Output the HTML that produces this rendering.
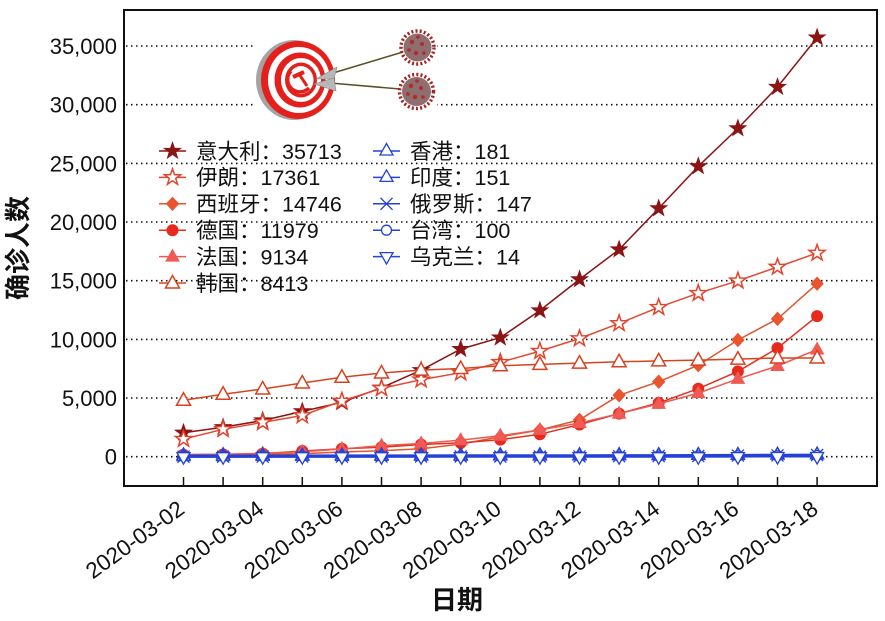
<!DOCTYPE html>
<html><head><meta charset="utf-8"><style>html,body{margin:0;padding:0;background:#fff;}svg{display:block}</style></head>
<body>
<svg width="885" height="621" viewBox="0 0 885 621" xmlns="http://www.w3.org/2000/svg" font-family="'Liberation Sans','Noto Sans CJK SC',sans-serif">
<defs>
<marker id="mIt" markerUnits="userSpaceOnUse" markerWidth="1" markerHeight="1" refX="0" refY="0" overflow="visible" style="overflow:visible"><path d="M0,-8.5 L2,-2.75 L8.08,-2.63 L3.23,1.05 L5,6.88 L0,3.4 L-5,6.88 L-3.23,1.05 L-8.08,-2.63 L-2,-2.75 Z" fill="#8b1414" stroke="#8b1414" stroke-width="1"/></marker>
<marker id="mIr" markerUnits="userSpaceOnUse" markerWidth="1" markerHeight="1" refX="0" refY="0" overflow="visible" style="overflow:visible"><path d="M0,-8.5 L2,-2.75 L8.08,-2.63 L3.23,1.05 L5,6.88 L0,3.4 L-5,6.88 L-3.23,1.05 L-8.08,-2.63 L-2,-2.75 Z" fill="#fff" stroke="#e4432b" stroke-width="1.5"/></marker>
<marker id="mEs" markerUnits="userSpaceOnUse" markerWidth="1" markerHeight="1" refX="0" refY="0" overflow="visible" style="overflow:visible"><path d="M0,-6.5 L6,0 L0,6.5 L-6,0 Z" fill="#e8552e" stroke="#e8552e" stroke-width="1"/></marker>
<marker id="mDe" markerUnits="userSpaceOnUse" markerWidth="1" markerHeight="1" refX="0" refY="0" overflow="visible" style="overflow:visible"><circle r="5.5" fill="#e8291e" stroke="#e8291e" stroke-width="1"/></marker>
<marker id="mFr" markerUnits="userSpaceOnUse" markerWidth="1" markerHeight="1" refX="0" refY="0" overflow="visible" style="overflow:visible"><path d="M0,-7 L6.5,4.5 L-6.5,4.5 Z" fill="#ef5a55" stroke="#ef5a55" stroke-width="1"/></marker>
<marker id="mKr" markerUnits="userSpaceOnUse" markerWidth="1" markerHeight="1" refX="0" refY="0" overflow="visible" style="overflow:visible"><path d="M0,-7.5 L7,5 L-7,5 Z" fill="#fff" stroke="#d9401f" stroke-width="1.5"/></marker>
<marker id="mTu" markerUnits="userSpaceOnUse" markerWidth="1" markerHeight="1" refX="0" refY="0" overflow="visible" style="overflow:visible"><path d="M0,-7.5 L6.5,4 L-6.5,4 Z" fill="#fff" stroke="#2441d8" stroke-width="1.3"/></marker>
<marker id="mX" markerUnits="userSpaceOnUse" markerWidth="1" markerHeight="1" refX="0" refY="0" overflow="visible" style="overflow:visible"><path d="M-6,-6 L6,6 M-6,6 L6,-6" fill="none" stroke="#2441d8" stroke-width="1.3"/></marker>
<marker id="mO" markerUnits="userSpaceOnUse" markerWidth="1" markerHeight="1" refX="0" refY="0" overflow="visible" style="overflow:visible"><circle r="5" fill="#fff" stroke="#2441d8" stroke-width="1.3"/></marker>
<marker id="mTd" markerUnits="userSpaceOnUse" markerWidth="1" markerHeight="1" refX="0" refY="0" overflow="visible" style="overflow:visible"><path d="M0,7.5 L6.5,-4 L-6.5,-4 Z" fill="#fff" stroke="#2441d8" stroke-width="1.3"/></marker>
</defs>

<g stroke="#111" stroke-width="1.6" stroke-dasharray="1.5 3.5" fill="none">
<line x1="126" y1="456.7" x2="876" y2="456.7"/>
<line x1="126" y1="398" x2="876" y2="398"/>
<line x1="126" y1="339.4" x2="876" y2="339.4"/>
<line x1="126" y1="280.7" x2="876" y2="280.7"/>
<line x1="126" y1="222" x2="876" y2="222"/>
<line x1="126" y1="163.4" x2="876" y2="163.4"/>
<line x1="126" y1="104.7" x2="876" y2="104.7"/>
<line x1="126" y1="46" x2="876" y2="46"/>
</g>

<rect x="253" y="24" width="184" height="102" fill="#fff"/>
<ellipse cx="294" cy="80" rx="38" ry="40" fill="#a4a4a4"/>
<ellipse cx="298" cy="80" rx="37" ry="39" fill="#e3201b"/>
<ellipse cx="299" cy="80" rx="31" ry="33" fill="#fff"/>
<ellipse cx="300" cy="80" rx="25.5" ry="27.5" fill="#e3201b"/>
<ellipse cx="301" cy="80" rx="20" ry="22" fill="#fff"/>
<ellipse cx="301" cy="80" rx="16" ry="17.5" fill="#e3201b"/>
<ellipse cx="301" cy="80" rx="12.5" ry="14" fill="#fff"/>
<path d="M291,71 A11,11 0 0,0 309,88" fill="none" stroke="#e3201b" stroke-width="3.5"/>
<path d="M293,77 L304,72" stroke="#e3201b" stroke-width="4"/>
<path d="M299,74 L307,86" stroke="#e3201b" stroke-width="3"/>
<line x1="333" y1="73" x2="403" y2="52" stroke="#5c5028" stroke-width="1.6"/>
<line x1="330" y1="83" x2="400" y2="89" stroke="#5c5028" stroke-width="1.6"/>
<polygon points="316,79 337,67 334,79" fill="#b8b8b8" stroke="#888" stroke-width="0.6"/>
<polygon points="314,84 334,78 336,91" fill="#b8b8b8" stroke="#888" stroke-width="0.6"/>
<g>
<circle cx="417.5" cy="47.5" r="16.5" fill="none" stroke="#a32222" stroke-width="3.5" stroke-dasharray="2 2.2"/>
<circle cx="417.5" cy="47.5" r="14" fill="#8e6e6e"/>
<circle cx="412" cy="42" r="2.2" fill="#b32a2a"/><circle cx="422" cy="44" r="2" fill="#b32a2a"/><circle cx="416" cy="53" r="2.2" fill="#b32a2a"/><circle cx="424" cy="53" r="1.8" fill="#b32a2a"/><circle cx="409" cy="50" r="1.8" fill="#b32a2a"/><circle cx="418" cy="37" r="1.8" fill="#b32a2a"/>
<circle cx="416.5" cy="91.5" r="17" fill="none" stroke="#a32222" stroke-width="3.5" stroke-dasharray="2 2.2"/>
<circle cx="416.5" cy="91.5" r="14.5" fill="#8e6e6e"/>
<circle cx="411" cy="86" r="2.2" fill="#b32a2a"/><circle cx="421" cy="88" r="2" fill="#b32a2a"/><circle cx="415" cy="97" r="2.2" fill="#b32a2a"/><circle cx="423" cy="97" r="1.8" fill="#b32a2a"/><circle cx="408" cy="94" r="1.8" fill="#b32a2a"/><circle cx="417" cy="81" r="1.8" fill="#b32a2a"/>
</g>

<g fill="none" stroke-width="1.5">
<polyline stroke="#8b1414" marker-start="url(#mIt)" marker-mid="url(#mIt)" marker-end="url(#mIt)" points="183.5,432.8 223.1,427.3 262.7,420.5 302.3,411.4 341.9,402.3 381.5,387.7 421.1,370.2 460.7,349.1 500.3,337.6 539.9,310.5 579.5,279.4 619.1,249.5 658.7,208.4 698.3,166.3 737.9,128.4 777.5,87 817.1,37.6"/>
<polyline stroke="#e24a32" marker-start="url(#mIr)" marker-mid="url(#mIr)" marker-end="url(#mIr)" points="183.5,439.1 223.1,429.3 262.7,422.4 302.3,415.5 341.9,401 381.5,388.4 421.1,379.7 460.7,372.7 500.3,362.3 539.9,351.1 579.5,338.5 619.1,323.4 658.7,307.3 698.3,293.2 737.9,280.8 777.5,267 817.1,253"/>
<polyline stroke="#e0542e" marker-start="url(#mEs)" marker-mid="url(#mEs)" marker-end="url(#mEs)" points="183.5,455.3 223.1,454.8 262.7,454.1 302.3,453.7 341.9,452 381.5,450.8 421.1,448.8 460.7,444.1 500.3,436.8 539.9,430 579.5,419.8 619.1,395.3 658.7,381.7 698.3,365.2 737.9,340 777.5,318.9 817.1,283.7"/>
<polyline stroke="#e2301f" marker-start="url(#mDe)" marker-mid="url(#mDe)" marker-end="url(#mDe)" points="183.5,454.8 223.1,454.4 262.7,453.6 302.3,451 341.9,448.8 381.5,447.3 421.1,444.5 460.7,442.9 500.3,439.6 539.9,434.3 579.5,424.5 619.1,413.6 658.7,402.9 698.3,388.7 737.9,371.4 777.5,348.1 817.1,316.1"/>
<polyline stroke="#ec5a50" marker-start="url(#mFr)" marker-mid="url(#mFr)" marker-end="url(#mFr)" points="183.5,454.5 223.1,454.2 262.7,453.4 302.3,451.7 341.9,449 381.5,445.6 421.1,443.5 460.7,440.1 500.3,435.8 539.9,429.9 579.5,423 619.1,413.7 658.7,403.9 698.3,393.1 737.9,378.9 777.5,366 817.1,349.5"/>
<polyline stroke="#d6431f" marker-start="url(#mKr)" marker-mid="url(#mKr)" marker-end="url(#mKr)" points="183.5,400.2 223.1,394.2 262.7,389 302.3,383 341.9,377.3 381.5,373 421.1,370.1 460.7,368.5 500.3,365.7 539.9,364.4 579.5,363.1 619.1,361.8 658.7,360.9 698.3,360.1 737.9,359.1 777.5,358 817.1,358"/>
</g>
<g fill="none" stroke="#2441d8" stroke-width="2">
<polyline marker-start="url(#mTu)" marker-mid="url(#mTu)" marker-end="url(#mTu)" points="183.5,455.5 223.1,455.5 262.7,455.5 302.3,455.5 341.9,455.4 381.5,455.4 421.1,455.4 460.7,455.3 500.3,455.3 539.9,455.2 579.5,455.2 619.1,455.1 658.7,455.1 698.3,455 737.9,454.9 777.5,454.7 817.1,454.6"/>
<polyline marker-start="url(#mTu)" marker-mid="url(#mTu)" marker-end="url(#mTu)" points="183.5,456.6 223.1,456.6 262.7,456.4 302.3,456.3 341.9,456.3 381.5,456.3 421.1,456.2 460.7,456.2 500.3,456 539.9,456 579.5,455.8 619.1,455.7 658.7,455.7 698.3,455.4 737.9,455.4 777.5,455.1 817.1,454.9"/>
<polyline marker-start="url(#mX)" marker-mid="url(#mX)" marker-end="url(#mX)" points="183.5,456.7 223.1,456.7 262.7,456.7 302.3,456.7 341.9,456.7 381.5,456.6 421.1,456.6 460.7,456.5 500.3,456.5 539.9,456.5 579.5,456.4 619.1,456.2 658.7,456 698.3,456 737.9,455.6 777.5,455.4 817.1,455"/>
<polyline marker-start="url(#mO)" marker-mid="url(#mO)" marker-end="url(#mO)" points="183.5,456.2 223.1,456.2 262.7,456.2 302.3,456.2 341.9,456.2 381.5,456.2 421.1,456.2 460.7,456.2 500.3,456.1 539.9,456.1 579.5,456.1 619.1,456.1 658.7,456.1 698.3,456 737.9,455.9 777.5,455.8 817.1,455.5"/>
<polyline marker-start="url(#mTd)" marker-mid="url(#mTd)" marker-end="url(#mTd)" points="183.5,456.7 223.1,456.7 262.7,456.7 302.3,456.7 341.9,456.7 381.5,456.7 421.1,456.7 460.7,456.7 500.3,456.7 539.9,456.7 579.5,456.7 619.1,456.7 658.7,456.7 698.3,456.7 737.9,456.6 777.5,456.5 817.1,456.5"/>
</g>

<rect x="124" y="10" width="753" height="476" fill="none" stroke="#111" stroke-width="2"/>
<g stroke="#111" stroke-width="1.5">
<line x1="183.5" y1="486" x2="183.5" y2="477"/><line x1="223.1" y1="486" x2="223.1" y2="477"/><line x1="262.7" y1="486" x2="262.7" y2="477"/><line x1="302.3" y1="486" x2="302.3" y2="477"/><line x1="341.9" y1="486" x2="341.9" y2="477"/><line x1="381.5" y1="486" x2="381.5" y2="477"/><line x1="421.1" y1="486" x2="421.1" y2="477"/><line x1="460.7" y1="486" x2="460.7" y2="477"/><line x1="500.3" y1="486" x2="500.3" y2="477"/><line x1="539.9" y1="486" x2="539.9" y2="477"/><line x1="579.5" y1="486" x2="579.5" y2="477"/><line x1="619.1" y1="486" x2="619.1" y2="477"/><line x1="658.7" y1="486" x2="658.7" y2="477"/><line x1="698.3" y1="486" x2="698.3" y2="477"/><line x1="737.9" y1="486" x2="737.9" y2="477"/><line x1="777.5" y1="486" x2="777.5" y2="477"/><line x1="817.1" y1="486" x2="817.1" y2="477"/>
</g>

<g font-size="22" fill="#111" text-anchor="end">
<text x="117" y="54">35,000</text>
<text x="117" y="112.7">30,000</text>
<text x="117" y="171.4">25,000</text>
<text x="117" y="230">20,000</text>
<text x="117" y="288.7">15,000</text>
<text x="117" y="347.4">10,000</text>
<text x="117" y="406">5,000</text>
<text x="117" y="464.7">0</text>
</g>

<g font-size="22.5" fill="#111" text-anchor="end">
<text x="186" y="512" transform="rotate(-36 186 512)">2020-03-02</text>
<text x="265.2" y="512" transform="rotate(-36 265.2 512)">2020-03-04</text>
<text x="344.4" y="512" transform="rotate(-36 344.4 512)">2020-03-06</text>
<text x="423.6" y="512" transform="rotate(-36 423.6 512)">2020-03-08</text>
<text x="502.8" y="512" transform="rotate(-36 502.8 512)">2020-03-10</text>
<text x="582" y="512" transform="rotate(-36 582 512)">2020-03-12</text>
<text x="661.2" y="512" transform="rotate(-36 661.2 512)">2020-03-14</text>
<text x="740.4" y="512" transform="rotate(-36 740.4 512)">2020-03-16</text>
<text x="819.6" y="512" transform="rotate(-36 819.6 512)">2020-03-18</text>
</g>

<text x="457" y="609" font-size="26" font-weight="bold" fill="#111" text-anchor="middle">日期</text>
<text x="0" y="0" font-size="26" font-weight="bold" fill="#111" text-anchor="middle" transform="translate(27 248) rotate(-90)">确诊人数</text>

<g fill="none" stroke-width="1.5">
<polyline stroke="#8b1414" marker-mid="url(#mIt)" points="159,151 172.5,151 186,151"/>
<polyline stroke="#e24a32" marker-mid="url(#mIr)" points="159,177.4 172.5,177.4 186,177.4"/>
<polyline stroke="#e0542e" marker-mid="url(#mEs)" points="159,203.8 172.5,203.8 186,203.8"/>
<polyline stroke="#e2301f" marker-mid="url(#mDe)" points="159,230.2 172.5,230.2 186,230.2"/>
<polyline stroke="#ec5a50" marker-mid="url(#mFr)" points="159,256.6 172.5,256.6 186,256.6"/>
<polyline stroke="#d6431f" marker-mid="url(#mKr)" points="159,283 172.5,283 186,283"/>
<polyline stroke="#2441d8" marker-mid="url(#mTu)" points="373,151 386.5,151 400,151"/>
<polyline stroke="#2441d8" marker-mid="url(#mTu)" points="373,177.4 386.5,177.4 400,177.4"/>
<polyline stroke="#2441d8" marker-mid="url(#mX)" points="373,203.8 386.5,203.8 400,203.8"/>
<polyline stroke="#2441d8" marker-mid="url(#mO)" points="373,230.2 386.5,230.2 400,230.2"/>
<polyline stroke="#2441d8" marker-mid="url(#mTd)" points="373,256.6 386.5,256.6 400,256.6"/>
</g>
<g font-size="21.5" fill="#111">
<text x="196" y="158.8">意大利：35713</text>
<text x="196" y="185.2">伊朗：17361</text>
<text x="196" y="211.6">西班牙：14746</text>
<text x="196" y="238">德国：11979</text>
<text x="196" y="264.4">法国：9134</text>
<text x="196" y="290.8">韩国：8413</text>
<text x="410" y="158.8">香港：181</text>
<text x="410" y="185.2">印度：151</text>
<text x="410" y="211.6">俄罗斯：147</text>
<text x="410" y="238">台湾：100</text>
<text x="410" y="264.4">乌克兰：14</text>
</g>
</svg>
</body></html>
